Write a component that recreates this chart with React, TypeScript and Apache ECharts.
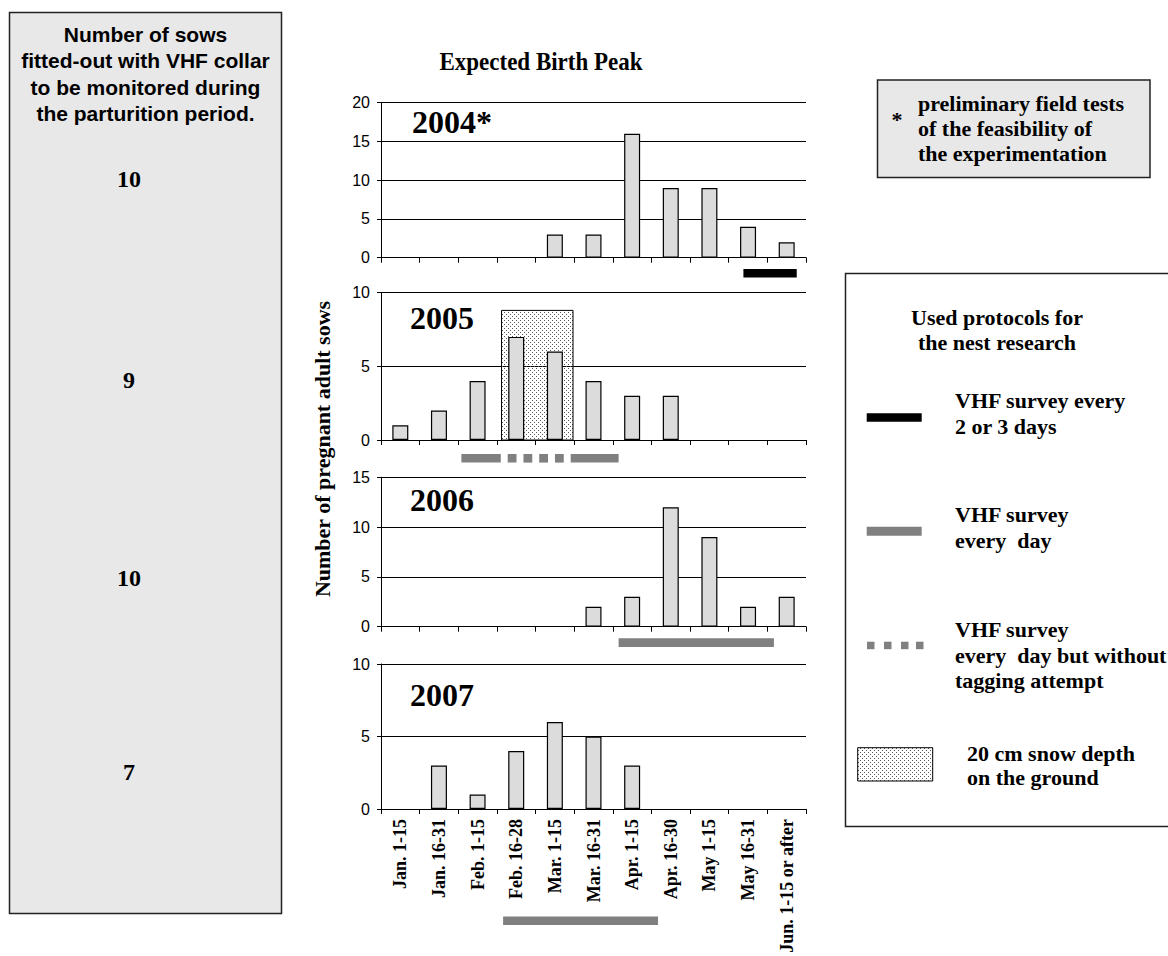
import React, { useEffect, useRef } from "react";
import * as echarts from "echarts";

// ---------- data ----------
const categories = [
  "Jan. 1-15",
  "Jan. 16-31",
  "Feb. 1-15",
  "Feb. 16-28",
  "Mar. 1-15",
  "Mar. 16-31",
  "Apr. 1-15",
  "Apr. 16-30",
  "May 1-15",
  "May 16-31",
  "Jun. 1-15 or after",
];
const births2004 = [0, 0, 0, 0, 3, 3, 16, 9, 9, 4, 2];
const births2005 = [1, 2, 4, 7, 6, 4, 3, 3, 0, 0, 0];
const births2006 = [0, 0, 0, 0, 0, 2, 3, 12, 9, 2, 3];
const births2007 = [0, 3, 1, 4, 6, 5, 3, 0, 0, 0, 0];
const panelYears = ["2004*", "2005", "2006", "2007"];
const panelMax = [20, 10, 15, 10];
const sowsMonitored = [10, 9, 10, 7];
// protocol periods, in half-month units (0 = start of Jan. 1-15, 11 = end of last period)
const protocols2004: [string, number, number][] = [["every2or3", 9.38, 10.76]];
const protocols2005: [string, number, number][] = [
  ["daily", 2.08, 3.1],
  ["dailyNoTag", 3.1, 4.91],
  ["daily", 4.91, 6.15],
];
const protocols2006: [string, number, number][] = [["daily", 6.15, 10.17]];
const protocols2007: [string, number, number][] = [["daily", 3.16, 7.17]];
// snow period [start, end, drawn height]
const snow2005 = [[3.12, 4.97, 8.8]];

// ---------- layout ----------
const GRID_LEFT = 381;
const GRID_WIDTH = 425;
const gridTops = [102.7, 292.7, 477.3, 664];
const gridHeights = [155, 147.3, 149.4, 150.3];
const protocolOffset = [11.3, 14, 11.6, 107.4];
const PROTO_H = 8.6;
const GRAY = "#808080";
const BAR_FILL = "#dcdcdc";
const SERIF = "Liberation Serif";
const SANS = "Liberation Sans";

const dotSvg =
  "data:image/svg+xml;charset=utf-8," +
  encodeURIComponent(
    "<svg xmlns='http://www.w3.org/2000/svg' width='4' height='4'><rect x='0' y='0' width='1' height='1' fill='#555'/><rect x='2' y='2' width='1' height='1' fill='#555'/></svg>"
  );
const dotPattern: any = { image: dotSvg, repeat: "repeat", imageWidth: 4, imageHeight: 4 };

function protocolRender(list: [string, number, number][], offset: number) {
  return (params: any, api: any) => {
    const item = list[params.dataIndex];
    const s = api.coord([api.value(0), 0]);
    const e = api.coord([api.value(1), 0]);
    const y = s[1] + offset;
    const x0 = s[0];
    const x1 = e[0];
    if (item[0] === "dailyNoTag") {
      const L = x1 - x0;
      const dash = (L * 8.7) / 69;
      const gap = (L - 4 * dash) / 5;
      return {
        type: "group",
        children: [0, 1, 2, 3].map((k) => ({
          type: "rect",
          shape: { x: x0 + gap + k * (dash + gap), y, width: dash, height: PROTO_H },
          style: { fill: GRAY },
        })),
      };
    }
    return {
      type: "rect",
      shape: { x: x0, y, width: x1 - x0, height: PROTO_H },
      style: { fill: item[0] === "every2or3" ? "#000" : GRAY },
    };
  };
}

function snowRender(params: any, api: any) {
  const p0 = api.coord([api.value(0), api.value(2)]);
  const p1 = api.coord([api.value(1), 0]);
  return {
    type: "rect",
    shape: { x: p0[0], y: p0[1], width: p1[0] - p0[0], height: p1[1] - p0[1] },
    style: { fill: dotPattern, stroke: "#000", lineWidth: 1 },
  };
}

const txt = (
  text: string,
  x: number,
  y: number,
  size: number,
  opts: any = {}
) => ({
  type: "text",
  x,
  y,
  rotation: opts.rotation || 0,
  scaleY: opts.scaleY || 1,
  z: 10,
  style: {
    text,
    fill: "#000",
    fontFamily: opts.family || SERIF,
    fontWeight: opts.weight || "bold",
    fontSize: size,
    align: opts.align || "left",
    verticalAlign: "middle",
  },
});

export default function App() {
  const ref = useRef<HTMLDivElement>(null);
  useEffect(() => {
    if (!ref.current) return;
    const chart = echarts.init(ref.current, undefined, { renderer: "svg" });
    const births = [births2004, births2005, births2006, births2007];
    const protos = [protocols2004, protocols2005, protocols2006, protocols2007];

    const grids = gridTops.map((t, i) => ({
      left: GRID_LEFT,
      width: GRID_WIDTH,
      top: t,
      height: gridHeights[i],
      containLabel: false,
    }));

    const xAxes: any[] = [];
    births.forEach((_, i) => {
      xAxes.push({
        type: "category",
        gridIndex: i,
        data: categories,
        boundaryGap: true,
        axisLine: { show: true, lineStyle: { color: "#000", width: 1 } },
        axisTick: { show: true, length: 5, interval: 0, lineStyle: { color: "#000" } },
        axisLabel:
          i === 3
            ? {
                show: true,
                interval: 0,
                rotate: 90,
                margin: 10,
                color: "#000",
                fontFamily: SERIF,
                fontWeight: "bold",
                fontSize: 18,
              }
            : { show: false },
        splitLine: { show: false },
      });
    });
    births.forEach((_, i) => {
      xAxes.push({ type: "value", gridIndex: i, min: 0, max: 11, show: false });
    });

    const yAxes = births.map((_, i) => ({
      type: "value",
      gridIndex: i,
      min: 0,
      max: panelMax[i],
      interval: 5,
      axisLine: { show: true, lineStyle: { color: "#000", width: 1 } },
      axisTick: { show: true, length: 4, lineStyle: { color: "#000" } },
      axisLabel: { color: "#000", fontFamily: SANS, fontSize: 16, margin: 11 },
      splitLine: { show: true, lineStyle: { color: "#000", width: 1 } },
    }));

    const series: any[] = [];
    births.forEach((vals, i) => {
      series.push({
        type: "bar",
        xAxisIndex: i,
        yAxisIndex: i,
        data: vals.map((v) => (v === 0 ? "-" : v)),
        barWidth: 16,
        z: 3,
        itemStyle: { color: BAR_FILL, borderColor: "#000", borderWidth: 1.2 },
      });
      series.push({
        type: "custom",
        xAxisIndex: 4 + i,
        yAxisIndex: i,
        clip: false,
        z: 4,
        data: protos[i].map((p) => [p[1], p[2]]),
        renderItem: protocolRender(protos[i], protocolOffset[i]),
      });
    });
    series.push({
      type: "custom",
      xAxisIndex: 5,
      yAxisIndex: 1,
      clip: false,
      z: 1,
      data: snow2005,
      renderItem: snowRender,
    });

    const graphic: any[] = [
      // left information box
      {
        type: "rect",
        shape: { x: 9.5, y: 12.5, width: 272, height: 901 },
        style: { fill: "#e8e8e8", stroke: "#222", lineWidth: 1.5 },
        z: 1,
      },
      txt("Number of sows", 145.5, 34, 21, { family: SANS, align: "center" }),
      txt("fitted-out with VHF collar", 145.5, 60.5, 21, { family: SANS, align: "center" }),
      txt("to be monitored during", 145.5, 87, 21, { family: SANS, align: "center" }),
      txt("the parturition period.", 145.5, 113, 21, { family: SANS, align: "center" }),
      txt(String(sowsMonitored[0]), 129, 179, 24, { align: "center" }),
      txt(String(sowsMonitored[1]), 129, 380, 24, { align: "center" }),
      txt(String(sowsMonitored[2]), 129, 578, 24, { align: "center" }),
      txt(String(sowsMonitored[3]), 129, 772, 24, { align: "center" }),
      // title
      txt("Expected Birth Peak", 541, 61, 23, { align: "center", scaleY: 1.1 }),
      // y axis title
      txt("Number of pregnant adult sows", 322, 449, 22, { align: "center", rotation: Math.PI / 2 }),
      // year labels
      txt(panelYears[0], 412, 122, 32),
      txt(panelYears[1], 410, 318, 32),
      txt(panelYears[2], 410, 500, 32),
      txt(panelYears[3], 410, 695, 32),
      // note box
      {
        type: "rect",
        shape: { x: 877.5, y: 80, width: 272.5, height: 97.5 },
        style: { fill: "#e8e8e8", stroke: "#222", lineWidth: 1.5 },
        z: 1,
      },
      txt("*", 897, 119, 22, { align: "center" }),
      txt("preliminary field tests", 918, 103.5, 22),
      txt("of the feasibility of", 918, 128.5, 22),
      txt("the experimentation", 918, 153.5, 22),
      // legend box
      {
        type: "rect",
        shape: { x: 845.5, y: 273.5, width: 340, height: 553 },
        style: { fill: "#fff", stroke: "#222", lineWidth: 1.5 },
        z: 1,
      },
      txt("Used protocols for", 997, 317, 22, { align: "center" }),
      txt("the nest research", 997, 342, 22, { align: "center" }),
      {
        type: "rect",
        shape: { x: 866.7, y: 413.3, width: 55, height: 8.4 },
        style: { fill: "#000" },
        z: 5,
      },
      txt("VHF survey every", 955, 400, 22),
      txt("2 or 3 days", 955, 426.5, 22),
      {
        type: "rect",
        shape: { x: 866.7, y: 526.7, width: 55, height: 9 },
        style: { fill: GRAY },
        z: 5,
      },
      txt("VHF survey", 955, 514, 22),
      txt("every  day", 955, 540, 22),
      ...[867, 884, 901, 916].map((x) => ({
        type: "rect",
        shape: { x, y: 641.7, width: 7.5, height: 7.5 },
        style: { fill: GRAY },
        z: 5,
      })),
      txt("VHF survey", 955, 629, 22),
      txt("every  day but without", 955, 655, 22),
      txt("tagging attempt", 955, 680, 22),
      {
        type: "rect",
        shape: { x: 857.7, y: 747.7, width: 75, height: 33.3 },
        style: { fill: dotPattern, stroke: "#000", lineWidth: 1 },
        z: 5,
      },
      txt("20 cm snow depth", 967, 753.5, 22),
      txt("on the ground", 967, 777.5, 22),
    ];

    chart.setOption({
      animation: false,
      backgroundColor: "#fff",
      grid: grids,
      xAxis: xAxes,
      yAxis: yAxes,
      series,
      graphic,
    });
    return () => chart.dispose();
  }, []);
  return (
    <div
      ref={ref}
      style={{ position: "absolute", left: 0, top: 0, width: 1168, height: 956 }}
    />
  );
}
